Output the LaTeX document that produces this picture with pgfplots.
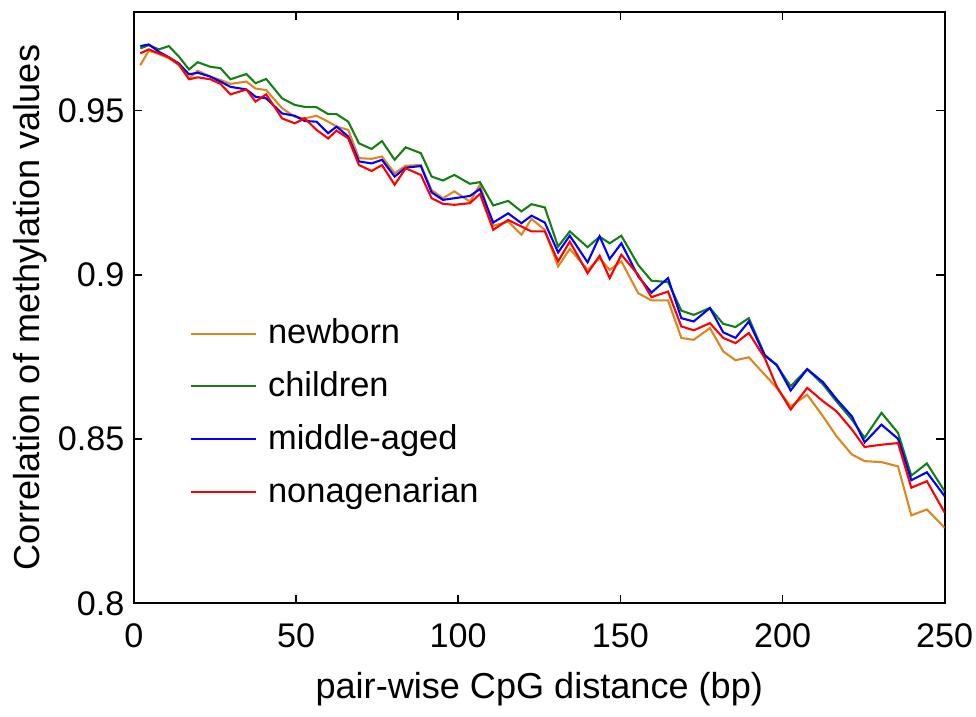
\documentclass[border=0pt]{standalone}
\usepackage{fontspec}
\setmainfont{Liberation Sans}
\usepackage{pgfplots}
\usepackage{pgfplotstable}
\pgfplotsset{compat=1.18}
\definecolor{cNew}{RGB}{222,134,30}
\definecolor{cChi}{RGB}{20,128,20}
\definecolor{cMid}{RGB}{0,0,255}
\definecolor{cNon}{RGB}{255,0,0}

% x = CpG distance, then newborn, children, middle-aged, nonagenarian
\pgfplotstableread{
x     nb     ch     ma     na
2     0.9638 0.9689 0.9696 0.9674
4.6   0.9682 0.9699 0.9701 0.9686
7.7   0.9672 0.9686 0.9679 0.9674
10.8  0.9659 0.9696 0.9662 0.9662
13.9  0.9638 0.9664 0.9643 0.9640
17.0  0.9598 0.9625 0.9610 0.9595
19.7  0.9621 0.9647 0.9615 0.9601
23.6  0.9603 0.9633 0.9603 0.9595
26.7  0.9593 0.9629 0.9588 0.9581
29.8  0.9581 0.9595 0.9572 0.9549
34.7  0.9588 0.9611 0.9564 0.9564
37.5  0.9567 0.9583 0.9542 0.9527
40.8  0.9562 0.9596 0.9537 0.9549
45.7  0.9507 0.9537 0.9491 0.9476
49.6  0.9481 0.9517 0.9484 0.9461
52.7  0.9476 0.9511 0.9468 0.9476
56.3  0.9484 0.9510 0.9466 0.9441
59.9  0.9466 0.9489 0.9431 0.9415
62.5  0.9451 0.9489 0.9451 0.9439
66.1  0.9441 0.9466 0.9421 0.9415
69.4  0.9355 0.9400 0.9345 0.9334
73.3  0.9353 0.9383 0.9339 0.9316
76.5  0.9360 0.9407 0.9350 0.9334
80.4  0.9309 0.9350 0.9299 0.9274
83.8  0.9332 0.9388 0.9326 0.9324
88.5  0.9334 0.9370 0.9331 0.9304
91.8  0.9258 0.9299 0.9251 0.9233
95.3  0.9233 0.9287 0.9228 0.9216
98.8  0.9254 0.9304 0.9233 0.9213
103.6 0.9223 0.9277 0.9240 0.9218
106.7 0.9274 0.9282 0.9261 0.9246
110.8 0.9149 0.9211 0.9159 0.9137
115.4 0.9162 0.9225 0.9187 0.9167
119.5 0.9122 0.9193 0.9157 0.9147
122.6 0.9170 0.9215 0.9180 0.9132
126.7 0.9137 0.9205 0.9159 0.9132
130.8 0.9025 0.9086 0.9068 0.9041
134.4 0.9079 0.9132 0.9119 0.9101
139.9 0.9015 0.9084 0.9038 0.9005
143.6 0.9051 0.9116 0.9117 0.9058
146.7 0.9015 0.9096 0.9048 0.8990
150.3 0.9041 0.9119 0.9096 0.9061
155.5 0.8944 0.9030 0.8995 0.9000
159.6 0.8922 0.8982 0.8946 0.8932
164.7 0.8922 0.8978 0.8990 0.8949
168.8 0.8808 0.8891 0.8868 0.8843
172.6 0.8802 0.8878 0.8858 0.8831
177.6 0.8838 0.8899 0.8899 0.8853
181.7 0.8767 0.8851 0.8825 0.8808
185.5 0.8740 0.8841 0.8808 0.8792
189.6 0.8749 0.8868 0.8858 0.8823
194.5 0.8696 0.8757 0.8754 0.8747
198.2 0.8656 0.8724 0.8726 0.8660
202.5 0.8600 0.8661 0.8648 0.8590
207.6 0.8635 0.8713 0.8713 0.8656
212.5 0.8569 0.8666 0.8673 0.8615
216.6 0.8509 0.8615 0.8622 0.8585
221.4 0.8453 0.8559 0.8569 0.8529
225.3 0.8433 0.8504 0.8490 0.8476
230.5 0.8430 0.8580 0.8544 0.8483
235.6 0.8417 0.8519 0.8501 0.8488
239.7 0.8268 0.8389 0.8375 0.8352
244.5 0.8286 0.8426 0.8399 0.8372
250   0.8230 0.8341 0.8326 0.8276
}\corrdata

\begin{document}
\begin{tikzpicture}
\begin{axis}[
scale only axis,width=292pt,height=213pt,
xmin=0,xmax=250,ymin=0.8,ymax=0.98,
xtick={0,50,...,250},ytick={0.8,0.85,0.9,0.95},
tick align=inside,major tick length=3pt,
axis line style={line width=0.7pt},
every tick/.style={black,line width=0.6pt},
/pgf/number format/assume math mode=true,
tick label style={font=\fontsize{12.3}{15}\selectfont,inner sep=1pt},
xticklabel style={yshift=-6pt},
yticklabel style={xshift=-2.2pt},
label style={font=\fontsize{13}{15}\selectfont},
xlabel={pair-wise CpG distance (bp)},
ylabel={Correlation of methylation values},
xlabel style={at={(axis description cs:0.5,-0.1455)},anchor=center},
ylabel style={at={(axis description cs:-0.128,0.5)},anchor=center},
legend style={draw=none,fill=none,at={(0.058,0.5005)},anchor=north west,
  font=\fontsize{12.4}{15}\selectfont,row sep=4.5pt,
  nodes={inner xsep=4pt}},
legend cell align=left,
legend image code/.code={\draw[#1,line width=0.7pt] (0pt,0pt) -- (23.5pt,0pt);},
every axis plot/.append style={line width=0.75pt},
]
\addplot[cNew] table[x=x,y=nb] {\corrdata};
\addplot[cChi] table[x=x,y=ch] {\corrdata};
\addplot[cMid] table[x=x,y=ma] {\corrdata};
\addplot[cNon] table[x=x,y=na] {\corrdata};
\legend{newborn,children,middle-aged,nonagenarian}
\end{axis}
\path ([shift={(-48.2pt,-40.7pt)}]current axis.south west)
      ([shift={(11.2pt,4.3pt)}]current axis.north east);
\end{tikzpicture}
\end{document}
